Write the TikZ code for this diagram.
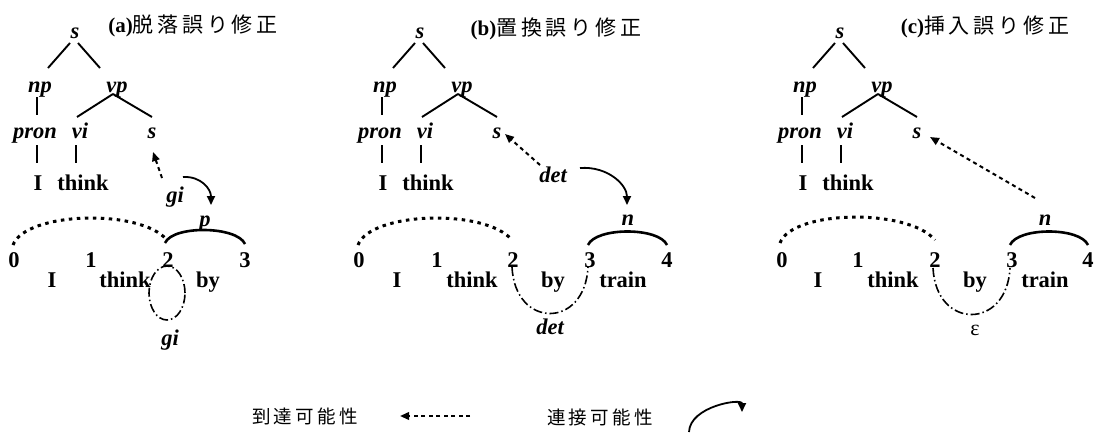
\documentclass[tikz,border=0pt]{standalone}
\usepackage{fontspec}
\setmainfont{Liberation Serif}
\newfontfamily\jp[LetterSpace=18]{Noto Sans CJK JP}
\usetikzlibrary{arrows.meta,calc}

\newcommand\ptree[2]{%
  \node[lbl] (#1s) at ({75+#2},38) {s};
  \node[lbl] (#1np) at ({40+#2},92) {np};
  \node[lbl] (#1vp) at ({117+#2},92) {vp};
  \node[lbl] (#1pron) at ({35+#2},138) {pron};
  \node[lbl] (#1vi) at ({80+#2},138) {vi};
  \node[lbl] (#1ss) at ({152+#2},138) {s};
  \node[wrd] (#1I) at ({38+#2},190) {I};
  \node[wrd] (#1think) at ({83+#2},190) {think};
  \draw[tline] ($(#1s.base)+(-5,5)$) -- ($(#1np.base)+(8,-24)$);
  \draw[tline] ($(#1s.base)+(3,5)$) -- ($(#1vp.base)+(-17,-24)$);
  \draw[tline] ($(#1np.base)+(-3,5)$) -- ($(#1pron.base)+(2,-23)$);
  \draw[tline] ($(#1vp.base)+(-4,2)$) -- ($(#1vi.base)+(-3,-21)$);
  \draw[tline] ($(#1vp.base)+(-4,2)$) -- ($(#1ss.base)+(0,-21)$);
  \draw[tline] ($(#1pron.base)+(2,7)$) -- ($(#1I.base)+(-1,-27)$);
  \draw[tline] ($(#1vi.base)+(-4,7)$) -- ($(#1think.base)+(-7,-27)$);
}

\begin{document}
\begin{tikzpicture}[x=1pt,y=-1pt,
  lbl/.style={font=\fontsize{22.5}{24}\selectfont\bfseries\itshape, inner sep=0pt, anchor=base},
  wrd/.style={font=\fontsize{22.5}{24}\selectfont\bfseries, inner sep=0pt, anchor=base},
  tline/.style={line width=1.9pt},
  reach/.style={line width=2pt, dash pattern=on 4pt off 3.5pt, -{Triangle[length=9pt,width=7.5pt]}},
  conn/.style={line width=1.8pt, -{Triangle[length=9pt,width=8pt]}},
  dotarc/.style={line width=3pt, dash pattern=on 3.5pt off 4.5pt},
  solarc/.style={line width=2.6pt},
  ddarc/.style={line width=1.6pt, dash pattern=on 9pt off 3pt on 1.5pt off 3pt},
  ttl/.style={inner sep=0pt, anchor=base},
]
\useasboundingbox (0,0) rectangle (1096,439);

% ---------- titles
\node[ttl] (ta) at (193,32) {\fontsize{21}{22}\selectfont{\bfseries(a)}{\jp 脱落誤り修正}};
\node[ttl] (tb) at (556,35) {\fontsize{21}{22}\selectfont{\bfseries(b)}{\jp 置換誤り修正}};
\node[ttl] (tc) at (985,33) {\fontsize{21}{22}\selectfont{\bfseries(c)}{\jp 挿入誤り修正}};

% ---------- trees
\ptree{a}{0}
\ptree{b}{345}
\ptree{c}{765}

% ---------- panel a
\node[lbl] (agi) at (175,202) {gi};
\node[lbl] (ap) at (205,226) {p};
\node[wrd] (a0) at (14,267) {0};
\node[wrd] (a1) at (91,267) {1};
\node[wrd] (a2) at (168,267) {2};
\node[wrd] (a3) at (245,267) {3};
\node[wrd] (aw1) at (52,287) {I};
\node[wrd] (aw2) at (125,287) {think};
\node[wrd] (aw3) at (208,287) {by};
\node[lbl] (agi2) at (170,345) {gi};
\draw[dotarc] ($(a0.base)+(-1,-22)$) .. controls +(12,-33) and +(-27,-32) .. ($(a2.base)+(-1,-27)$);
\draw[solarc] ($(a2.base)+(-3,-24)$) .. controls +(8,-18) and +(-8,-18) .. ($(a3.base)+(0,-23)$);
\draw[ddarc] ($(a2.base)+(-1,26)$) ellipse [x radius=18pt, y radius=27pt];
\draw[reach] ($(agi.base)+(-13,-24)$) -- ($(ass.base)+(1,14)$);
\draw[conn] ($(agi.base)+(8,-25)$) .. controls +(18,-1) and +(0,-16) .. ($(ap.base)+(6,-21)$);

% ---------- panel b
\node[lbl] (bdet) at (553,182) {det};
\node[lbl] (bn) at (628,225) {n};
\node[wrd] (b0) at (359,267) {0};
\node[wrd] (b1) at (437,267) {1};
\node[wrd] (b2) at (513,267) {2};
\node[wrd] (b3) at (590,267) {3};
\node[wrd] (b4) at (667,267) {4};
\node[wrd] (bw1) at (397,287) {I};
\node[wrd] (bw2) at (472,287) {think};
\node[wrd] (bw3) at (553,287) {by};
\node[wrd] (bw4) at (623,287) {train};
\node[lbl] (bdet2) at (550,334) {det};
\draw[dotarc] ($(b0.base)+(-1,-22)$) .. controls +(12,-33) and +(-27,-32) .. ($(b2.base)+(-1,-27)$);
\draw[solarc] ($(b3.base)+(-2,-22)$) .. controls +(8,-18) and +(-8,-18) .. ($(b4.base)+(0,-22)$);
\draw[ddarc] ($(b2.base)+(-1,0)$) .. controls +(3,62) and +(-3,62) .. ($(b3.base)+(-2,0)$);
\draw[reach] ($(bdet.base)+(-13,-17)$) -- ($(bss.base)+(8,-4)$);
\draw[conn] ($(bdet.base)+(27,-14)$) .. controls +(28,-2) and +(0,-20) .. ($(bn.base)+(-1,-20)$);

% ---------- panel c
\node[lbl] (cn) at (1045,225) {n};
\node[wrd] (c0) at (782,267) {0};
\node[wrd] (c1) at (858,267) {1};
\node[wrd] (c2) at (935,267) {2};
\node[wrd] (c3) at (1012,267) {3};
\node[wrd] (c4) at (1088,267) {4};
\node[wrd] (cw1) at (818,287) {I};
\node[wrd] (cw2) at (893,287) {think};
\node[wrd] (cw3) at (975,287) {by};
\node[wrd] (cw4) at (1045,287) {train};
\node[wrd, font=\fontsize{22}{24}\selectfont] (ceps) at (975,335) {ε};
\draw[dotarc] ($(c0.base)+(-2,-24)$) .. controls +(12,-33) and +(-27,-32) .. ($(c2.base)+(0,-27)$);
\draw[solarc] ($(c3.base)+(-2,-22)$) .. controls +(8,-18) and +(-8,-18) .. ($(c4.base)+(0,-22)$);
\draw[ddarc] ($(c2.base)+(-2,1)$) .. controls +(3,62) and +(-3,62) .. ($(c3.base)+(-2,1)$);
\draw[reach] ($(cn.base)+(-10,-27)$) -- ($(css.base)+(13,-1)$);

% ---------- legend
\node[ttl] (lg1) at (305,423) {\fontsize{18.5}{20}\selectfont\jp 到達可能性};
\coordinate (lgAs) at (470,416);
\coordinate (lgAe) at (400,416);
\draw[reach] (lgAs) -- (lgAe);
\node[ttl] (lg2) at (600,424) {\fontsize{18.5}{20}\selectfont\jp 連接可能性};
\coordinate (lgBs) at (689,432);
\coordinate (lgBe) at (742,412);
\draw[conn] (lgBs) .. controls +(1,-26) and +(0,-14) .. (lgBe);
\end{tikzpicture}
\end{document}
